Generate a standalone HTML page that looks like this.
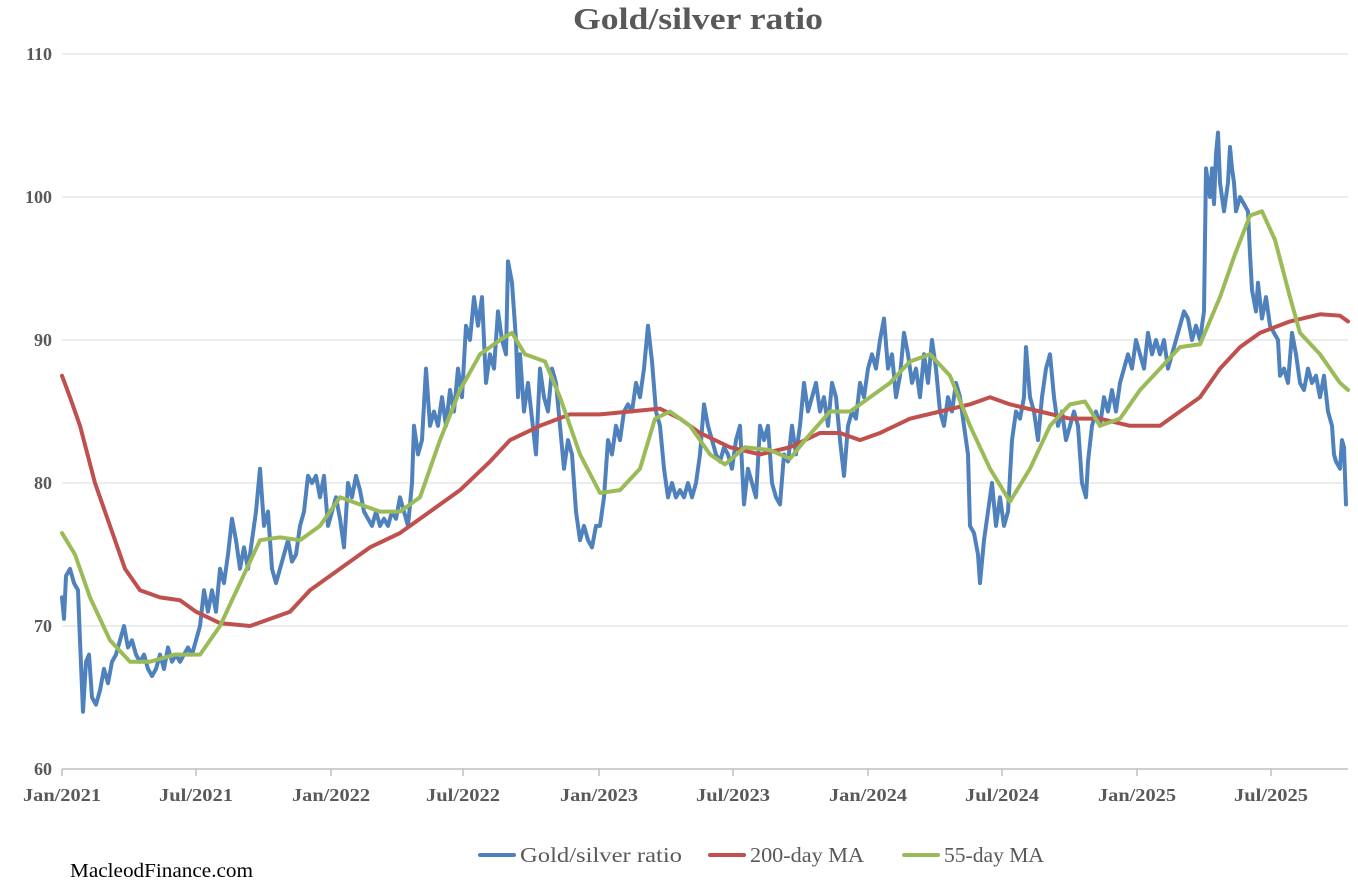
<!DOCTYPE html>
<html><head><meta charset="utf-8"><style>
body{margin:0;background:#fff;}
svg{display:block;font-family:"Liberation Serif",serif;}
</style></head><body>
<svg width="1358" height="884" viewBox="0 0 1358 884">
<rect width="1358" height="884" fill="#fff"/>
<text x="698" y="29" text-anchor="middle" font-size="31" font-weight="bold" fill="#595959" textLength="250" lengthAdjust="spacingAndGlyphs">Gold/silver ratio</text>
<g stroke="#d9d9d9" stroke-width="1">
<line x1="62" x2="1348" y1="54" y2="54"/><line x1="62" x2="1348" y1="197" y2="197"/><line x1="62" x2="1348" y1="340" y2="340"/><line x1="62" x2="1348" y1="483" y2="483"/><line x1="62" x2="1348" y1="626" y2="626"/>
</g>
<line x1="62" x2="1348" y1="769" y2="769" stroke="#bfbfbf" stroke-width="1.5"/>
<g stroke="#bfbfbf" stroke-width="1.5">
<line x1="62" x2="62" y1="769" y2="776"/><line x1="196" x2="196" y1="769" y2="776"/><line x1="331" x2="331" y1="769" y2="776"/><line x1="463" x2="463" y1="769" y2="776"/><line x1="599" x2="599" y1="769" y2="776"/><line x1="733" x2="733" y1="769" y2="776"/><line x1="868" x2="868" y1="769" y2="776"/><line x1="1002" x2="1002" y1="769" y2="776"/><line x1="1137" x2="1137" y1="769" y2="776"/><line x1="1271" x2="1271" y1="769" y2="776"/>
</g>
<g font-size="18" font-weight="bold" fill="#595959" text-anchor="end">
<text x="52" y="60">110</text><text x="52" y="203">100</text><text x="52" y="346">90</text><text x="52" y="489">80</text><text x="52" y="632">70</text><text x="52" y="775">60</text>
</g>
<g font-size="18" font-weight="bold" fill="#595959" text-anchor="middle" lengthAdjust="spacingAndGlyphs">
<text x="62" y="801" textLength="78" lengthAdjust="spacingAndGlyphs">Jan/2021</text><text x="196" y="801" textLength="74" lengthAdjust="spacingAndGlyphs">Jul/2021</text><text x="331" y="801" textLength="78" lengthAdjust="spacingAndGlyphs">Jan/2022</text><text x="463" y="801" textLength="74" lengthAdjust="spacingAndGlyphs">Jul/2022</text><text x="599" y="801" textLength="78" lengthAdjust="spacingAndGlyphs">Jan/2023</text><text x="733" y="801" textLength="74" lengthAdjust="spacingAndGlyphs">Jul/2023</text><text x="868" y="801" textLength="78" lengthAdjust="spacingAndGlyphs">Jan/2024</text><text x="1002" y="801" textLength="74" lengthAdjust="spacingAndGlyphs">Jul/2024</text><text x="1137" y="801" textLength="78" lengthAdjust="spacingAndGlyphs">Jan/2025</text><text x="1271" y="801" textLength="74" lengthAdjust="spacingAndGlyphs">Jul/2025</text>
</g>
<g transform="matrix(1,0,0,-14.3,0,1627)" fill="none" stroke-linejoin="round" stroke-linecap="round">
<polyline vector-effect="non-scaling-stroke" stroke="#4f81bd" stroke-width="4" points="62,72 64,70.5 66,73.5 70,74 74,73 78,72.5 80,69 83,64 86,67.5 89,68 92,65 96,64.5 100,65.5 104,67 108,66 112,67.5 116,68 120,69 124,70 128,68.5 132,69 136,68 140,67.5 144,68 148,67 152,66.5 156,67 160,68 164,67 168,68.5 172,67.5 176,68 180,67.5 184,68 188,68.5 192,68 196,69 200,70 204,72.5 208,71 212,72.5 216,71 220,74 224,73 228,75 232,77.5 236,76 240,74 244,75.5 248,74 252,76 256,78 260,81 264,77 268,78 272,74 276,73 280,74 284,75 288,76 292,74.5 296,75 300,77 304,78 308,80.5 312,80 316,80.5 320,79 324,80.5 328,77 332,78 336,79 340,77.5 344,75.5 348,80 352,79 356,80.5 360,79.5 364,78 368,77.5 372,77 376,78 380,77 384,77.5 388,77 392,78 396,77.5 400,79 404,78 408,77 412,80 414,84 418,82 422,83 426,88 430,84 434,85 438,84 442,86 446,84 450,86.5 454,85 458,88 462,86 466,91 470,90 474,93 478,91 482,93 486,87 490,89 494,88 498,92 502,90 506,89 508,95.5 512,94 516,90 518,86 520,89 524,85 528,87 532,84.5 536,82 540,88 544,86 548,85 552,88 556,87 560,84 564,81 568,83 572,82 576,78 580,76 584,77 588,76 592,75.5 596,77 600,77 604,79 608,83 612,82 616,84 620,83 624,85 628,85.5 632,85 636,87 640,86 644,88 648,91 652,88.5 656,85 660,84 664,81 668,79 672,80 676,79 680,79.5 684,79 688,80 692,79 696,80 700,82 704,85.5 708,84 712,83 716,82 720,81.5 724,82.5 728,82 732,81 736,83 740,84 744,78.5 748,81 752,80 756,79 760,84 764,83 768,84 772,80 776,79 780,78.5 784,82 788,81.5 792,84 796,82 800,84 804,87 808,85 812,86 816,87 820,85 824,86 828,84 832,87 836,86 840,83 844,80.5 848,84 852,85 856,84.5 860,87 864,86 868,88 872,89 876,88 880,90 884,91.5 888,88 892,89 896,86 900,87.5 904,90.5 908,89 912,87 916,88 920,86 924,89 928,87 932,90 936,88 940,85 944,84 948,86 952,85 956,87 960,86 964,84 968,82 970,77 974,76.5 978,75 980,73 984,76 988,78 992,80 996,77 1000,79 1004,77 1008,78 1012,83 1016,85 1020,84.5 1024,86 1026,89.5 1030,86 1034,85 1038,83 1042,86 1046,88 1050,89 1054,86 1058,84 1062,85 1066,83 1070,84 1074,85 1078,84 1082,80 1086,79 1088,81.5 1092,84 1096,85 1100,84 1104,86 1108,85 1112,86.5 1116,85 1120,87 1124,88 1128,89 1132,88 1136,90 1140,89 1144,88 1148,90.5 1152,89 1156,90 1160,89 1164,90 1168,88 1172,89 1176,90 1180,91 1184,92 1188,91.5 1192,90 1196,91 1200,90 1204,92 1206,102 1208,101 1210,100 1212,102 1214,99.5 1216,103 1218,104.5 1220,101 1222,100 1224,99 1226,100 1228,101 1230,103.5 1232,102 1234,101 1236,99 1240,100 1244,99.5 1248,99 1250,96 1252,93.5 1256,92 1258,94 1262,91.5 1266,93 1270,91 1274,90.5 1278,90 1280,87.5 1284,88 1288,87 1292,90.5 1296,89 1300,87 1304,86.5 1308,88 1312,87 1316,87.5 1320,86 1324,87.5 1328,85 1332,84 1334,82 1336,81.5 1340,81 1342,83 1344,82.5 1346,78.5"/>
<polyline vector-effect="non-scaling-stroke" stroke="#c0504d" stroke-width="4" points="62,87.5 70,86 80,84 95,80 110,77 125,74 140,72.5 160,72 180,71.8 196,71 220,70.2 250,70 270,70.5 290,71 310,72.5 340,74 370,75.5 400,76.5 430,78 460,79.5 490,81.5 510,83 540,84 570,84.8 600,84.8 630,85 660,85.2 680,84.5 700,83.5 730,82.5 760,82 790,82.5 820,83.5 840,83.5 860,83 880,83.5 910,84.5 940,85 970,85.5 990,86 1010,85.5 1040,85 1070,84.5 1100,84.5 1130,84 1160,84 1180,85 1200,86 1220,88 1240,89.5 1260,90.5 1290,91.3 1320,91.8 1340,91.7 1348,91.3"/>
<polyline vector-effect="non-scaling-stroke" stroke="#9bbb59" stroke-width="4" points="62,76.5 75,75 90,72 110,69 130,67.5 150,67.5 175,68 200,68 220,70 240,73 260,76 280,76.2 300,76 320,77 340,79 360,78.5 380,78 400,78 420,79 440,83 460,86.5 480,89 500,90 512,90.5 525,89 545,88.5 560,86 580,82 600,79.3 620,79.5 640,81 655,84.5 670,85 690,84 710,82 725,81.3 745,82.5 770,82.3 790,81.7 805,83 830,85 850,85 870,86 890,87 910,88.5 930,89 950,87.5 970,84 990,81 1010,78.7 1030,81 1050,84 1070,85.5 1085,85.7 1100,84 1120,84.5 1140,86.5 1160,88 1180,89.5 1200,89.7 1220,93 1235,96 1250,98.7 1262,99 1275,97 1290,93 1300,90.5 1320,89 1340,87 1348,86.5"/>
</g>
<g stroke-width="4" stroke-linecap="round">
<line x1="480" x2="514" y1="855" y2="855" stroke="#4f81bd"/>
<line x1="710" x2="744" y1="855" y2="855" stroke="#c0504d"/>
<line x1="904" x2="938" y1="855" y2="855" stroke="#9bbb59"/>
</g>
<g font-size="21" fill="#595959">
<text x="520" y="862" textLength="162" lengthAdjust="spacingAndGlyphs">Gold/silver ratio</text>
<text x="750" y="862" textLength="114" lengthAdjust="spacingAndGlyphs">200-day MA</text>
<text x="944" y="862" textLength="100" lengthAdjust="spacingAndGlyphs">55-day MA</text>
</g>
<text x="70" y="877" font-size="20" fill="#000" textLength="183" lengthAdjust="spacingAndGlyphs">MacleodFinance.com</text>
</svg>
</body></html>
